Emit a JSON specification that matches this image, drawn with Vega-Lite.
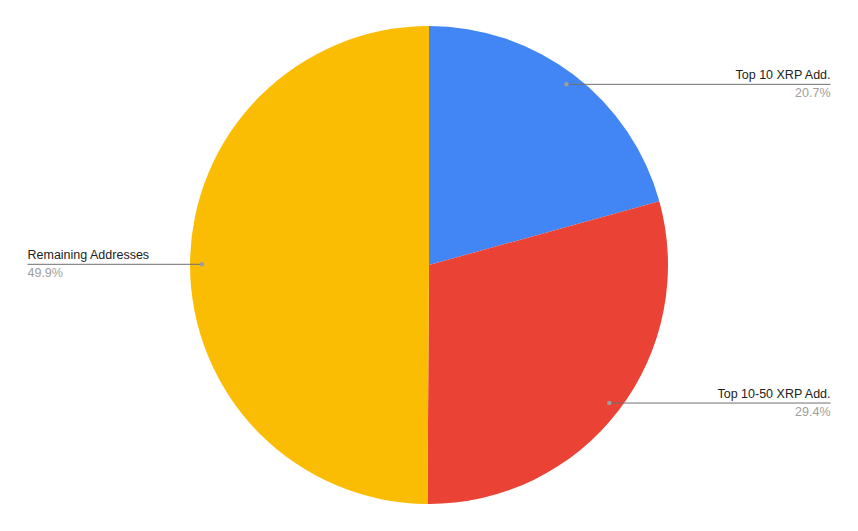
{
  "$schema": "https://vega.github.io/schema/vega-lite/v6.json",
  "width": 858,
  "height": 531,
  "autosize": {"type": "fit", "contains": "padding"},
  "padding": 0,
  "background": "white",
  "config": {"view": {"stroke": null}, "text": {"font": "Liberation Sans", "fontSize": 12.5}},
  "data": {
    "values": [
      {"name": "Top 10 XRP Add.", "share": 20.7, "order": 1},
      {"name": "Top 10-50 XRP Add.", "share": 29.4, "order": 2},
      {"name": "Remaining Addresses", "share": 49.9, "order": 3}
    ]
  },
  "transform": [
    {"window": [{"op": "sum", "field": "share", "as": "cum"}], "sort": [{"field": "order"}], "frame": [null, 0]},
    {"joinaggregate": [{"op": "sum", "field": "share", "as": "total"}]},
    {"calculate": "2 * PI * (datum.cum - datum.share / 2) / datum.total", "as": "mid"},
    {"calculate": "0.95 * sin(datum.mid)", "as": "px"},
    {"calculate": "0.95 * cos(datum.mid)", "as": "py"},
    {"calculate": "datum.px >= 0 ? 1.68 : -1.68", "as": "lx"},
    {"calculate": "datum.share / datum.total", "as": "pct"}
  ],
  "encoding": {
    "x": {"type": "quantitative", "scale": {"domain": [-1.795, 1.795], "nice": false, "zero": false}, "axis": null},
    "y": {"type": "quantitative", "scale": {"domain": [-1.113, 1.109], "nice": false, "zero": false}, "axis": null}
  },
  "layer": [
    {
      "mark": {"type": "arc", "outerRadius": 239},
      "encoding": {
        "x": {"datum": 0, "type": "quantitative"},
        "y": {"datum": 0, "type": "quantitative"},
        "theta": {"field": "share", "type": "quantitative", "stack": true},
        "order": {"field": "order", "type": "quantitative"},
        "color": {
          "field": "name",
          "type": "nominal",
          "scale": {"domain": ["Top 10 XRP Add.", "Top 10-50 XRP Add.", "Remaining Addresses"], "range": ["#4285F4", "#EA4335", "#FBBC04"]},
          "legend": null
        }
      }
    },
    {
      "mark": {"type": "rule", "color": "#6f6f6f", "strokeWidth": 1},
      "encoding": {
        "x": {"field": "px", "type": "quantitative"},
        "x2": {"field": "lx"},
        "y": {"field": "py", "type": "quantitative"}
      }
    },
    {
      "mark": {"type": "point", "filled": true, "size": 20, "color": "#9e9e9e", "opacity": 1},
      "encoding": {
        "x": {"field": "px", "type": "quantitative"},
        "y": {"field": "py", "type": "quantitative"}
      }
    },
    {
      "transform": [{"filter": "datum.lx > 0"}],
      "layer": [
        {
          "mark": {"type": "text", "align": "right", "baseline": "bottom", "dy": -2, "color": "#222222"},
          "encoding": {
            "x": {"field": "lx", "type": "quantitative"},
            "y": {"field": "py", "type": "quantitative"},
            "text": {"field": "name"}
          }
        },
        {
          "mark": {"type": "text", "align": "right", "baseline": "top", "dy": 3, "color": "#9e9e9e"},
          "encoding": {
            "x": {"field": "lx", "type": "quantitative"},
            "y": {"field": "py", "type": "quantitative"},
            "text": {"field": "pct", "type": "quantitative", "format": ".1%"}
          }
        }
      ]
    },
    {
      "transform": [{"filter": "datum.lx < 0"}],
      "layer": [
        {
          "mark": {"type": "text", "align": "left", "baseline": "bottom", "dy": -2, "color": "#222222"},
          "encoding": {
            "x": {"field": "lx", "type": "quantitative"},
            "y": {"field": "py", "type": "quantitative"},
            "text": {"field": "name"}
          }
        },
        {
          "mark": {"type": "text", "align": "left", "baseline": "top", "dy": 3, "color": "#9e9e9e"},
          "encoding": {
            "x": {"field": "lx", "type": "quantitative"},
            "y": {"field": "py", "type": "quantitative"},
            "text": {"field": "pct", "type": "quantitative", "format": ".1%"}
          }
        }
      ]
    }
  ]
}
